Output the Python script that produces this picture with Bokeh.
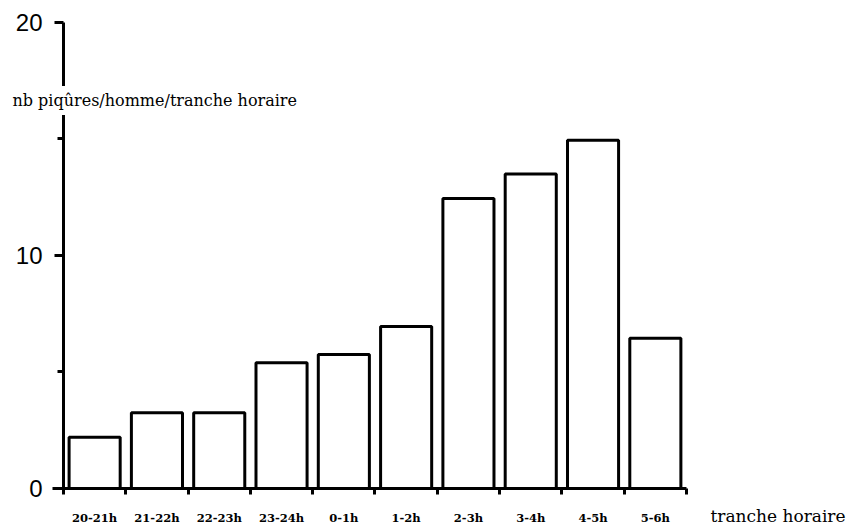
from bokeh.plotting import figure
from bokeh.models import FixedTicker, Label, Range1d
from bokeh.embed import file_html
from bokeh.resources import INLINE

categories = ["20-21h", "21-22h", "22-23h", "23-24h", "0-1h", "1-2h",
              "2-3h", "3-4h", "4-5h", "5-6h"]
values = [2.2, 3.25, 3.25, 5.4, 5.75, 6.95, 12.45, 13.5, 14.95, 6.45]
y_ticks = [0, 10, 20]
y_minor_ticks = [5, 15]
y_label = "nb piqûres/homme/tranche horaire"
x_label = "tranche horaire"

centers = [i + 0.5 for i in range(len(categories))]
bounds = list(range(len(categories) + 1))

p = figure(width=859, height=526, output_backend="svg", toolbar_location=None,
           x_range=Range1d(-1.011, 12.777), y_range=Range1d(-1.631, 20.944))
p.min_border = 0
p.min_border_left = 0
p.min_border_right = 0
p.min_border_top = 0
p.min_border_bottom = 0
p.outline_line_color = None
p.grid.visible = False
p.background_fill_color = "white"
p.border_fill_color = "white"

p.vbar(x=centers, top=values, bottom=0, width=0.82, fill_color="white",
       line_color="black", line_width=3)

# y axis
ya = p.yaxis[0]
ya.fixed_location = 0
ya.bounds = (-0.21, 20)
ya.ticker = FixedTicker(ticks=y_ticks, minor_ticks=y_minor_ticks)
ya.axis_line_width = 3
ya.axis_line_color = "black"
ya.major_tick_out = 9
ya.major_tick_in = 0
ya.major_tick_line_width = 3
ya.minor_tick_out = 6
ya.minor_tick_in = 0
ya.minor_tick_line_width = 3
ya.major_label_standoff = 12
ya.major_label_text_font = "Liberation Sans"
ya.major_label_text_font_size = "24px"
ya.major_label_text_color = "black"

# x axis
xa = p.xaxis[0]
xa.fixed_location = 0
xa.bounds = (-0.18, 10)
xa.ticker = FixedTicker(ticks=centers, minor_ticks=bounds)
xa.major_label_overrides = {c: lab for c, lab in zip(centers, categories)}
xa.axis_line_width = 3
xa.axis_line_color = "black"
xa.major_tick_out = 0
xa.major_tick_in = 0
xa.major_tick_line_color = None
xa.minor_tick_out = 6
xa.minor_tick_in = 0
xa.minor_tick_line_width = 3
xa.major_label_standoff = 17
xa.major_label_text_font = "DejaVu Serif"
xa.major_label_text_font_style = "bold"
xa.major_label_text_font_size = "11.5px"
xa.major_label_text_color = "black"

p.add_layout(Label(x=-0.899, y=16.65, text=y_label, text_font="DejaVu Serif",
                   text_font_size="16px", text_baseline="middle",
                   text_color="black", background_fill_color="white",
                   padding=5))
p.add_layout(Label(x=10.385, y=-1.2, text=x_label, text_font="DejaVu Serif",
                   text_font_size="17px", text_baseline="alphabetic",
                   text_color="black"))

open("out.html", "w").write(file_html(p, INLINE))
